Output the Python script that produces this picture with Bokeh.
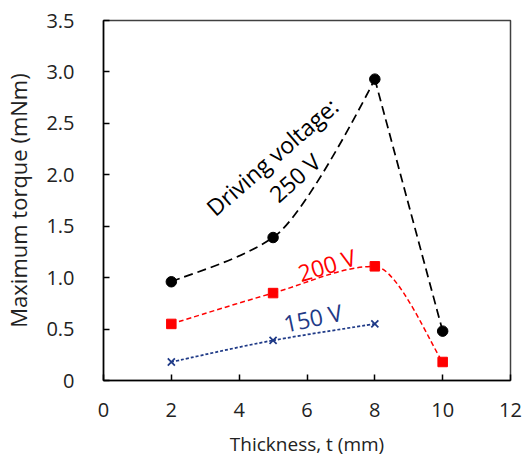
import math
from bokeh.plotting import figure
from bokeh.models import FixedTicker, CustomJSTickFormatter, Label, ColumnDataSource
from bokeh.embed import file_html
from bokeh.resources import INLINE

# ---- data ----
thickness_250 = [2, 5, 8, 10]
torque_250 = [0.96, 1.39, 2.93, 0.48]
thickness_200 = [2, 5, 8, 10]
torque_200 = [0.55, 0.85, 1.11, 0.18]
thickness_150 = [2, 5, 8]
torque_150 = [0.18, 0.39, 0.55]

x_ticks = [0, 2, 4, 6, 8, 10, 12]
y_ticks = [0, 0.5, 1.0, 1.5, 2.0, 2.5, 3.0, 3.5]

FONT = "Open Sans"
X_RANGE = (0, 12)
Y_RANGE = (0, 3.5)
FRAME_W, FRAME_H = 408, 360
SX = FRAME_W / (X_RANGE[1] - X_RANGE[0])   # px per x unit (for turn angles)
SY = FRAME_H / (Y_RANGE[1] - Y_RANGE[0])   # px per y unit


def bezier_source(xs, ys):
    """Smooth bezier segments through the data points: monotone (harmonic
    mean) slopes inside, chord direction at the ends, cusp at very sharp turns."""
    n = len(xs)
    d_seg = [(ys[i + 1] - ys[i]) / (xs[i + 1] - xs[i]) for i in range(n - 1)]
    m, s = [], []
    for i in range(n):
        if i == 0:
            m.append(d_seg[0]); s.append(1.0)
        elif i == n - 1:
            m.append(d_seg[-1]); s.append(1.0)
        else:
            a, b = d_seg[i - 1], d_seg[i]
            m.append(0.0 if a * b <= 0 else 2.0 / (1.0 / a + 1.0 / b))
            ax, ay = (xs[i] - xs[i - 1]) * SX, (ys[i] - ys[i - 1]) * SY
            bx, by = (xs[i + 1] - xs[i]) * SX, (ys[i + 1] - ys[i]) * SY
            c = (ax * bx + ay * by) / (math.hypot(ax, ay) * math.hypot(bx, by))
            s.append(min(1.0, max(0.0, 1 + 1.5 * c)))
    d = dict(x0=[], y0=[], x1=[], y1=[], cx0=[], cy0=[], cx1=[], cy1=[])
    for i in range(n - 1):
        h = xs[i + 1] - xs[i]
        k0 = h / 6 if i == 0 else h / 3 * s[i]
        k1 = h / 6 if i + 1 == n - 1 else h / 3 * s[i + 1]
        d["x0"].append(xs[i]); d["y0"].append(ys[i])
        d["x1"].append(xs[i + 1]); d["y1"].append(ys[i + 1])
        d["cx0"].append(xs[i] + k0); d["cy0"].append(ys[i] + k0 * m[i])
        d["cx1"].append(xs[i + 1] - k1); d["cy1"].append(ys[i + 1] - k1 * m[i + 1])
    return ColumnDataSource(d)


p = figure(width=523, height=459, x_range=X_RANGE, y_range=Y_RANGE,
           output_backend="svg", toolbar_location=None,
           min_border_left=102, min_border_right=13,
           min_border_top=20, min_border_bottom=79)

p.background_fill_color = "white"
p.border_fill_color = "white"
p.outline_line_color = "#404040"
p.outline_line_width = 1.5
p.xgrid.visible = False
p.ygrid.visible = False

NAVY = "#1F3A87"

series = [
    (thickness_250, torque_250, "black", "9 5", 1.75),
    (thickness_200, torque_200, "#FF0000", "5 3", 1.5),
    (thickness_150, torque_150, NAVY, "3 2", 1.75),
]
for xs, ys, col, dash, lw in series:
    src = bezier_source(xs, ys)
    p.bezier(x0="x0", y0="y0", x1="x1", y1="y1", cx0="cx0", cy0="cy0",
             cx1="cx1", cy1="cy1", source=src, line_color=col,
             line_dash=dash, line_width=lw)

p.scatter(thickness_250, torque_250, marker="circle", size=10.5,
          fill_color="black", line_color="black")
p.scatter(thickness_200, torque_200, marker="square", size=9.5,
          fill_color="#FF0000", line_color="#FF0000")
p.scatter(thickness_150, torque_150, marker="x", size=10,
          line_color=NAVY, line_width=1.75)

for ax in (p.xaxis[0], p.yaxis[0]):
    ax.axis_line_color = "black"
    ax.axis_line_width = 1.5
    ax.major_tick_in = 6
    ax.major_tick_out = 0
    ax.major_tick_line_color = "black"
    ax.major_tick_line_width = 1.5
    ax.minor_tick_line_color = None
    ax.major_label_text_font = FONT
    ax.major_label_text_font_size = "20px"
    ax.major_label_text_color = "#222222"
    ax.axis_label_text_font = FONT
    ax.axis_label_text_font_style = "normal"
    ax.axis_label_text_color = "#222222"

p.xaxis.ticker = FixedTicker(ticks=x_ticks)
p.yaxis.ticker = FixedTicker(ticks=y_ticks)
p.yaxis.formatter = CustomJSTickFormatter(
    code="return tick == 0 ? '0' : tick.toFixed(1);")
p.xaxis.major_label_standoff = 22
p.yaxis.major_label_standoff = 29

p.xaxis.axis_label = "Thickness, t (mm)"
p.xaxis.axis_label_text_font_size = "19px"
p.xaxis.axis_label_standoff = 11
p.yaxis.axis_label = "Maximum torque (mNm)"
p.yaxis.axis_label_text_font_size = "22px"
p.yaxis.axis_label_standoff = 10

# annotations
p.add_layout(Label(x=3.13, y=1.65, text="Driving voltage:",
                   angle=math.radians(41), text_align="left",
                   text_baseline="alphabetic", text_font=FONT,
                   text_font_size="23px", text_color="black"))
p.add_layout(Label(x=4.99, y=1.78, text="250 V",
                   angle=math.radians(42), text_align="left",
                   text_baseline="alphabetic", text_font=FONT,
                   text_font_size="23px", text_color="black"))
p.add_layout(Label(x=5.75, y=1.04, text="200 V",
                   angle=math.radians(17), text_align="left",
                   text_baseline="alphabetic", text_font=FONT,
                   text_font_size="23px", text_color="#FF0000"))
p.add_layout(Label(x=5.32, y=0.55, text="150 V",
                   angle=math.radians(12), text_align="left",
                   text_baseline="alphabetic", text_font=FONT,
                   text_font_size="23px", text_color=NAVY))

open("out.html", "w").write(file_html(p, INLINE))
